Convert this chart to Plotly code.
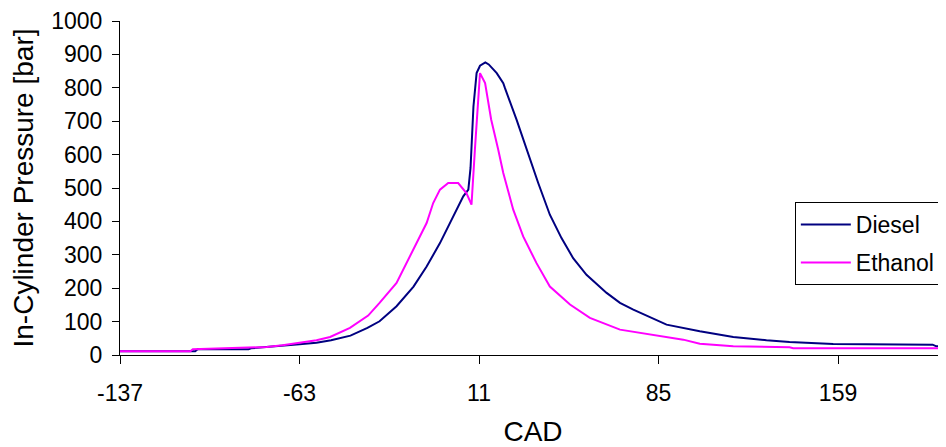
import plotly.graph_objects as go

# Diesel series
cad_diesel = [-137, -106, -105, -84, -83, -70, -63, -56, -50, -42, -35, -30, -23, -16, -10.6, -5.1,
              0.4, 4.5, 6.6, 7.5, 8.7, 10, 11.4, 13.6, 15, 18.3, 21, 21.7, 26.5, 30.6, 35.4,
              40.2, 45, 49.8, 55.3, 63.6, 69.1, 74.6, 88.3, 102, 115.8, 129.5, 139, 157, 180,
              198, 199.5, 204]
p_diesel = [11, 11, 17, 17, 20, 27, 32, 37, 44, 58, 81, 101, 146, 205, 265, 335,
            415, 475, 495, 560, 744, 844, 866, 876, 870, 844, 814, 799, 704, 615, 515,
            420, 350, 290, 240, 186, 156, 136, 91, 71, 54, 44, 39, 33, 31,
            31, 26, 26]

# Ethanol series
cad_ethanol = [-137, -108, -107, -88, -76.5, -70, -63, -56, -50.4, -42.2, -34.7, -30, -23, -16,
               -10.6, -7.9, -5.1, -1.7, 2.4, 5.8, 7.9, 9.3, 11.4, 13.5, 16, 18.9, 21, 25.1,
               29.2, 34.7, 40.2, 48.5, 56.7, 69.1, 81.5, 95.2, 102, 115.8, 139, 140.5, 204]
p_ethanol = [11, 11, 17, 20, 24, 29, 37, 44, 54, 81, 118, 156, 216, 315,
             395, 455, 495, 515, 515, 485, 450, 615, 844, 814, 705, 615, 545, 435,
             355, 275, 205, 151, 111, 76, 61, 46, 34, 26, 23, 20, 20]

x_ticks = [-137, -63, 11, 85, 159]
y_ticks = [0, 100, 200, 300, 400, 500, 600, 700, 800, 900, 1000]

FONT = "Arial, Liberation Sans, sans-serif"

fig = go.Figure()
fig.add_trace(go.Scatter(x=cad_diesel, y=p_diesel, mode="lines", name="Diesel",
                         legendgroup="d", line=dict(color="#000080", width=2)))
fig.add_trace(go.Scatter(x=cad_ethanol, y=p_ethanol, mode="lines", name="Ethanol",
                         legendgroup="e", line=dict(color="#FF00FF", width=2)))

# page body has an 8px default margin; size the figure to fit the 946x447 window
fig.update_layout(
    width=938, height=439,
    margin=dict(l=112, r=0, t=13, b=92),
    paper_bgcolor="white", plot_bgcolor="white",
    font=dict(family=FONT, size=23, color="black"),
    showlegend=True,
    legend=dict(x=0.817, y=0.458, xanchor="left", yanchor="top",
                bordercolor="black", borderwidth=1, bgcolor="white",
                font=dict(size=23), itemwidth=50, tracegroupgap=5,
                traceorder="grouped"),
)
fig.update_xaxes(
    range=[-137, 203.5], tickvals=x_ticks, ticktext=[str(v) for v in x_ticks],
    showline=True, linecolor="black", linewidth=1, automargin=False,
    ticks="outside", ticklen=8, tickcolor="black", ticklabelstandoff=9,
    showgrid=False, zeroline=False,
    title=dict(text="CAD", standoff=19),
)
fig.update_yaxes(
    range=[0, 1000], tickvals=y_ticks, automargin=False,
    showline=True, linecolor="black", linewidth=1,
    ticks="outside", ticklen=7, tickcolor="black", ticklabelstandoff=5,
    showgrid=False, zeroline=False,
    title=dict(text="In-Cylinder Pressure [bar]", standoff=14),
)

fig.write_html("out.html")
